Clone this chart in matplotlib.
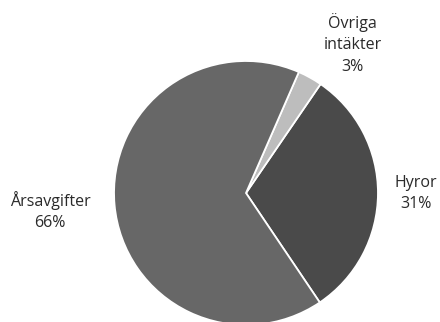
import matplotlib
matplotlib.use("Agg")
import matplotlib.pyplot as plt
import numpy as np

categories = ["Hyror", "Övriga\nintäkter", "Årsavgifter"]
values = [31, 3, 66]
colors = ["#4a4a4a", "#bdbdbd", "#676767"]

plt.rcParams['font.family'] = ['Open Sans', 'DejaVu Sans']

fig = plt.figure(figsize=(4.4, 3.22), dpi=100)
ax = fig.add_axes([0, 0, 1, 1])
wedges, _ = ax.pie(values, colors=colors, startangle=-56, counterclock=True,
                   wedgeprops=dict(edgecolor="white", linewidth=1.3))
ax.set_xlim(-1.864, 1.470)
ax.set_ylim(-0.977, 1.462)
ax.set_aspect('auto')
ax.axis('off')

# label placement: (distance, angle offset in degrees)
placement = [(1.285, 0.0), (1.39, -6.5), (1.49, 0.0)]
for w, cat, v, (d, off) in zip(wedges, categories, values, placement):
    ang = np.deg2rad((w.theta1 + w.theta2) / 2 + off)
    ax.text(d * np.cos(ang), d * np.sin(ang), f"{cat}\n{v}%", ha="center", va="center",
            fontsize=11.5, color="#2a2a2a", linespacing=1.45)

fig.savefig("out.png", dpi=100)
